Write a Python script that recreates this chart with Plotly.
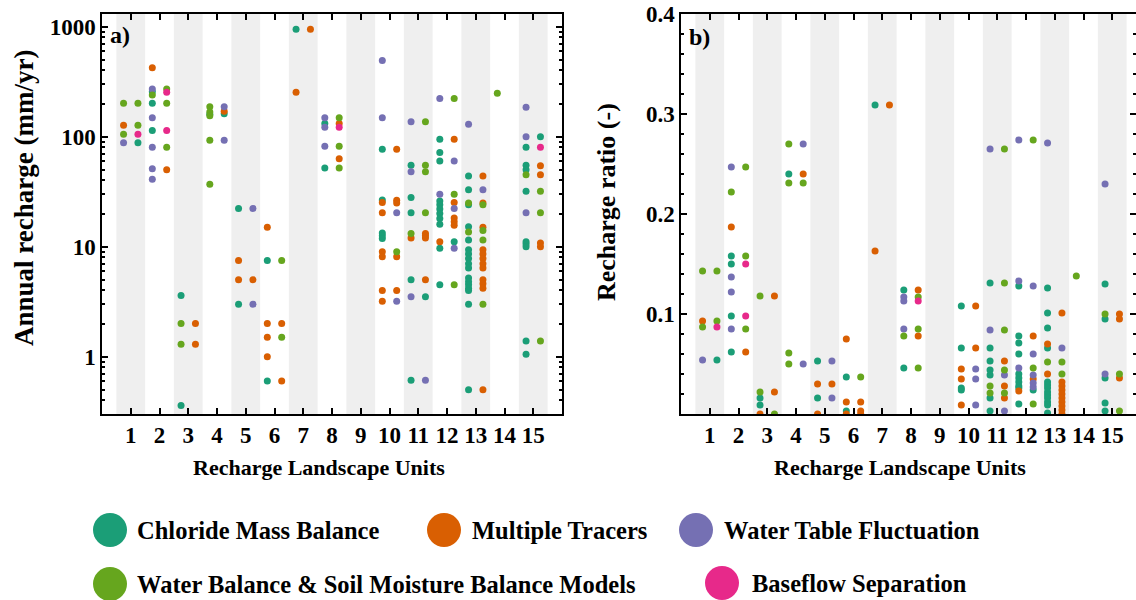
import plotly.graph_objects as go

W, H = 1136, 600
FONT = "Liberation Serif"

rlu_units = list(range(1, 16))
methods = ["Chloride Mass Balance", "Multiple Tracers", "Water Table Fluctuation",
           "Water Balance & Soil Moisture Balance Models", "Baseflow Separation"]
colors = ["#1b9e77", "#d95f02", "#7570b3", "#66a61e", "#e7298a"]

# ---- panel a: annual recharge (mm/yr); (RLU, column L/R, value)
cmb_recharge = [(1, "R", 88), (2, "L", 256), (2, "L", 201), (2, "L", 114), (3, "L", 3.6), (3, "L", 0.36),
                (4, "L", 160), (4, "R", 162), (5, "L", 22.3), (5, "L", 3.0), (6, "L", 7.5), (6, "L", 0.6),
                (7, "L", 950), (8, "L", 132), (8, "L", 52), (10, "L", 77), (10, "L", 26.6), (10, "L", 13.3),
                (10, "L", 12.6), (10, "L", 11.9), (11, "L", 55), (11, "L", 28), (11, "L", 20.4), (11, "L", 5.0),
                (11, "L", 0.61), (11, "R", 3.5), (12, "L", 95), (12, "L", 72), (12, "L", 60), (12, "L", 26),
                (12, "L", 24), (12, "L", 22), (12, "L", 20), (12, "L", 18), (12, "L", 16), (12, "L", 9.7),
                (12, "L", 4.5), (12, "R", 11.1), (13, "L", 44), (13, "L", 33), (13, "L", 24), (13, "L", 15.2),
                (13, "L", 11.5), (13, "L", 9.4), (13, "L", 8.6), (13, "L", 7.8), (13, "L", 7.0), (13, "L", 6.4),
                (13, "L", 5.2), (13, "L", 4.8), (13, "L", 4.5), (13, "L", 4.2), (13, "L", 4.0), (13, "L", 3.0),
                (13, "L", 0.5), (15, "L", 80), (15, "L", 55), (15, "L", 50), (15, "L", 32), (15, "L", 11.1),
                (15, "L", 10.6), (15, "L", 10.0), (15, "L", 1.39), (15, "L", 1.05), (15, "R", 100)]
mt_recharge = [(1, "L", 127), (2, "L", 424), (2, "R", 50), (3, "R", 2.0), (3, "R", 1.3), (4, "R", 170),
               (5, "L", 7.5), (5, "L", 5.0), (5, "R", 5.0), (6, "L", 15), (6, "L", 2.0), (6, "L", 1.5),
               (6, "L", 1.0), (6, "R", 2.0), (6, "R", 0.6), (7, "L", 253), (7, "R", 950), (8, "R", 132),
               (8, "R", 63), (10, "L", 25.2), (10, "L", 20.4), (10, "L", 9.0), (10, "L", 8.1), (10, "L", 4.0),
               (10, "L", 3.2), (10, "R", 77), (10, "R", 26.5), (10, "R", 25), (10, "R", 8.1), (10, "R", 4.0),
               (11, "L", 12.0), (11, "R", 13.2), (11, "R", 12.6), (11, "R", 12.0), (11, "R", 5.0),
               (12, "L", 11.1), (12, "R", 95), (12, "R", 25.2), (12, "R", 18.2), (12, "R", 16.9), (12, "R", 15.7),
               (13, "R", 44), (13, "R", 25), (13, "R", 15), (13, "R", 9.4), (13, "R", 8.6), (13, "R", 7.8),
               (13, "R", 7.0), (13, "R", 6.4), (13, "R", 5.0), (13, "R", 4.6), (13, "R", 4.2), (13, "R", 0.5),
               (15, "R", 54.5), (15, "R", 45), (15, "R", 10.8), (15, "R", 10.0)]
wtf_recharge = [(1, "L", 88), (2, "L", 271), (2, "L", 149), (2, "L", 80), (2, "L", 51), (2, "L", 41),
                (4, "R", 187), (4, "R", 93), (5, "R", 22.3), (5, "R", 3.0), (8, "L", 149), (8, "L", 122),
                (8, "L", 82), (10, "L", 494), (10, "L", 149), (10, "R", 20.4), (10, "R", 3.2), (11, "L", 137),
                (11, "L", 48), (11, "L", 3.5), (11, "R", 0.61), (12, "L", 223), (12, "L", 30), (12, "R", 60),
                (12, "R", 22.3), (12, "R", 9.7), (13, "L", 130), (13, "R", 33), (15, "L", 185), (15, "L", 100),
                (15, "L", 20.4)]
wb_recharge = [(1, "L", 201), (1, "L", 105), (1, "R", 201), (1, "R", 127), (2, "L", 239), (2, "R", 271),
               (2, "R", 201), (2, "R", 80), (3, "L", 2.0), (3, "L", 1.3), (4, "L", 187), (4, "L", 168),
               (4, "L", 155), (4, "L", 93), (4, "L", 37), (6, "R", 7.5), (6, "R", 1.5), (8, "R", 149),
               (8, "R", 82), (8, "R", 52), (10, "R", 9.0), (11, "L", 13.2), (11, "R", 137), (11, "R", 55),
               (11, "R", 48), (11, "R", 20.4), (12, "R", 223), (12, "R", 30), (12, "R", 4.5), (13, "L", 25),
               (13, "L", 13.6), (13, "R", 24), (13, "R", 14), (13, "R", 11.5), (13, "R", 3.0), (14, "L", 248),
               (15, "L", 45), (15, "R", 32), (15, "R", 20.4), (15, "R", 1.39)]
bf_recharge = [(1, "R", 105), (2, "R", 253), (2, "R", 114), (8, "R", 122), (15, "R", 80)]

# ---- panel b: recharge ratio (-)
cmb_ratio = [(1, "R", .054), (2, "L", .158), (2, "L", .150), (2, "L", .098), (2, "L", .062), (3, "L", .016),
             (3, "L", .009), (4, "L", .240), (5, "L", .053), (5, "L", .016), (6, "L", .037), (6, "L", .003),
             (7, "L", .309), (8, "L", .124), (8, "L", .046), (10, "L", .108), (10, "L", .066), (10, "L", .026),
             (10, "L", .024), (11, "L", .131), (11, "L", .066), (11, "L", .053), (11, "L", .044), (11, "L", .039),
             (11, "L", .016), (11, "L", .003), (12, "L", .128), (12, "L", .078), (12, "L", .071), (12, "L", .060),
             (12, "L", .040), (12, "L", .036), (12, "L", .032), (12, "L", .028), (12, "L", .026), (12, "L", .010),
             (12, "R", .024), (13, "L", .126), (13, "L", .101), (13, "L", .086), (13, "L", .066), (13, "L", .032),
             (13, "L", .029), (13, "L", .026), (13, "L", .022), (13, "L", .019), (13, "L", .016), (13, "L", .012),
             (13, "L", .009), (13, "L", .001), (15, "L", .130), (15, "L", .095), (15, "L", .036), (15, "L", .011),
             (15, "L", .003)]
mt_ratio = [(1, "L", .093), (2, "L", .187), (2, "R", .062), (3, "L", .0), (3, "R", .118), (3, "R", .022),
            (4, "R", .240), (5, "L", .030), (5, "L", .0), (5, "R", .030), (6, "L", .075), (6, "L", .012),
            (6, "L", .0), (6, "R", .012), (6, "R", .003), (6, "R", .0), (7, "L", .163), (7, "R", .309),
            (8, "R", .124), (8, "R", .078), (10, "L", .045), (10, "L", .035), (10, "L", .009), (10, "R", .108),
            (10, "R", .066), (11, "R", .053), (11, "R", .028), (11, "R", .016), (12, "L", .023), (12, "R", .078),
            (12, "R", .035), (13, "L", .070), (13, "L", .040), (13, "R", .101), (13, "R", .032), (13, "R", .028),
            (13, "R", .024), (13, "R", .020), (13, "R", .016), (13, "R", .012), (13, "R", .008), (13, "R", .004),
            (13, "R", .0), (15, "R", .100), (15, "R", .095), (15, "R", .036)]
wtf_ratio = [(1, "L", .054), (2, "L", .247), (2, "L", .137), (2, "L", .122), (2, "L", .085), (4, "R", .270),
             (4, "R", .050), (5, "R", .053), (5, "R", .016), (8, "L", .117), (8, "L", .113), (8, "L", .085),
             (10, "R", .045), (10, "R", .035), (10, "R", .009), (11, "L", .265), (11, "L", .084), (11, "R", .039),
             (11, "R", .003), (12, "L", .274), (12, "L", .133), (12, "L", .046), (12, "R", .128), (12, "R", .060),
             (12, "R", .039), (12, "R", .031), (12, "R", .027), (13, "L", .271), (13, "R", .066), (15, "L", .230),
             (15, "L", .040)]
wb_ratio = [(1, "L", .143), (1, "L", .087), (1, "R", .143), (1, "R", .093), (2, "L", .222), (2, "R", .247),
            (2, "R", .158), (2, "R", .085), (3, "L", .118), (3, "L", .022), (3, "R", .0), (4, "L", .270),
            (4, "L", .231), (4, "L", .061), (4, "L", .050), (4, "R", .231), (6, "R", .037), (8, "L", .078),
            (8, "R", .117), (8, "R", .085), (8, "R", .046), (11, "L", .028), (11, "L", .021), (11, "R", .265),
            (11, "R", .131), (11, "R", .084), (11, "R", .044), (11, "R", .021), (12, "R", .274), (12, "R", .046),
            (12, "R", .010), (13, "L", .052), (13, "R", .052), (13, "R", .040), (14, "L", .138), (15, "L", .100),
            (15, "R", .040), (15, "R", .003)]
bf_ratio = [(1, "R", .087), (2, "R", .150), (2, "R", .098), (8, "R", .113)]

recharge_sets = [cmb_recharge, mt_recharge, wtf_recharge, wb_recharge, bf_recharge]
ratio_sets = [cmb_ratio, mt_ratio, wtf_ratio, wb_ratio, bf_ratio]

COL_OFFSET = {"L": -0.25, "R": 0.25}


def px_x(p):
    return p / W


def px_y(p):
    return 1 - p / H


fig = go.Figure()
for name, col, da, db in zip(methods, colors, recharge_sets, ratio_sets):
    fig.add_trace(go.Scatter(x=[r + COL_OFFSET[s] for r, s, v in da], y=[v for r, s, v in da],
                             mode="markers", name=name, marker=dict(color=col, size=7),
                             xaxis="x", yaxis="y", showlegend=False))
    fig.add_trace(go.Scatter(x=[r + COL_OFFSET[s] for r, s, v in db], y=[v for r, s, v in db],
                             mode="markers", name=name, marker=dict(color=col, size=7),
                             xaxis="x2", yaxis="y2", showlegend=False))

tickfont = dict(family=FONT, size=23, color="black", weight="bold")
ydom = [px_y(414), px_y(14)]
axis_common = dict(showline=True, linecolor="black", linewidth=1.5, mirror="ticks", ticks="inside",
                   tickcolor="black", tickwidth=1.5, showgrid=False, zeroline=False, tickfont=tickfont,
                   automargin=False)

fig.update_layout(
    template="none",
    width=W, height=H, margin=dict(l=0, r=0, t=0, b=0, pad=0, autoexpand=False),
    paper_bgcolor="white", plot_bgcolor="white", showlegend=False,
    font=dict(family=FONT, color="black"),
    xaxis=dict(domain=[px_x(102), px_x(562)], range=[0, 16], tickmode="array", tickvals=rlu_units,
               ticklen=6, anchor="y", **axis_common),
    yaxis=dict(domain=ydom, type="log", range=[-0.521, 3.1155], tickmode="array",
               tickvals=[1, 10, 100, 1000], ticktext=["1", "10", "100", "1000"], ticklen=6, anchor="x",
               minor=dict(ticks="inside", ticklen=3, tickcolor="black", dtick="D1", showgrid=False),
               **axis_common),
    xaxis2=dict(domain=[px_x(681), 1.0], range=[0, (1136 - 681) / 28.75], tickmode="array",
                tickvals=rlu_units, ticklen=6, anchor="y2", **axis_common),
    yaxis2=dict(domain=ydom, range=[0, 0.4], tickmode="array", tickvals=[0.1, 0.2, 0.3, 0.4],
                ticktext=["0.1", "0.2", "0.3", "0.4"], ticklen=6, anchor="x2",
                minor=dict(ticks="inside", ticklen=3, tickcolor="black", dtick=0.02, showgrid=False),
                **axis_common),
)

shapes = []
for xr, yr in (("x", "y domain"), ("x2", "y2 domain")):
    for r in rlu_units:
        if r % 2 == 1:
            shapes.append(dict(type="rect", xref=xr, yref=yr, x0=r - 0.5, x1=r + 0.5, y0=0, y1=1,
                               fillcolor="rgb(239,239,239)", line=dict(width=0), layer="below"))

bold = dict(family=FONT, color="black", weight="bold")


def label(text, x, y, size, angle=0, xanchor="center"):
    return dict(text=text, x=px_x(x), y=px_y(y), xref="paper", yref="paper", textangle=angle,
                xanchor=xanchor, yanchor="middle", showarrow=False, font=dict(size=size, **bold))


annotations = [
    label("Annual recharge (mm/yr)", 24, 198, 27, -90),
    label("Recharge ratio (-)", 606, 202, 26, -90),
    label("Recharge Landscape Units", 319, 467, 22),
    label("Recharge Landscape Units", 900, 467, 22),
    label("a)", 108, 35, 24, xanchor="left"),
    label("b)", 687, 37, 24, xanchor="left"),
]

# legend (circles + labels)
legend_pos = [(110, 530, 135), (444, 530, 470), (696, 530, 722), (110, 584, 135), (722, 583, 750)]
R = 17
for name, col, (cx, cy, tx) in zip(methods, colors, legend_pos):
    shapes.append(dict(type="circle", xref="paper", yref="paper", x0=px_x(cx - R), x1=px_x(cx + R),
                       y0=px_y(cy + R), y1=px_y(cy - R), fillcolor=col, line=dict(width=0)))
    annotations.append(label(name, tx, cy, 24.5, xanchor="left"))

fig.update_layout(shapes=shapes, annotations=annotations)
fig.write_html("out.html")
